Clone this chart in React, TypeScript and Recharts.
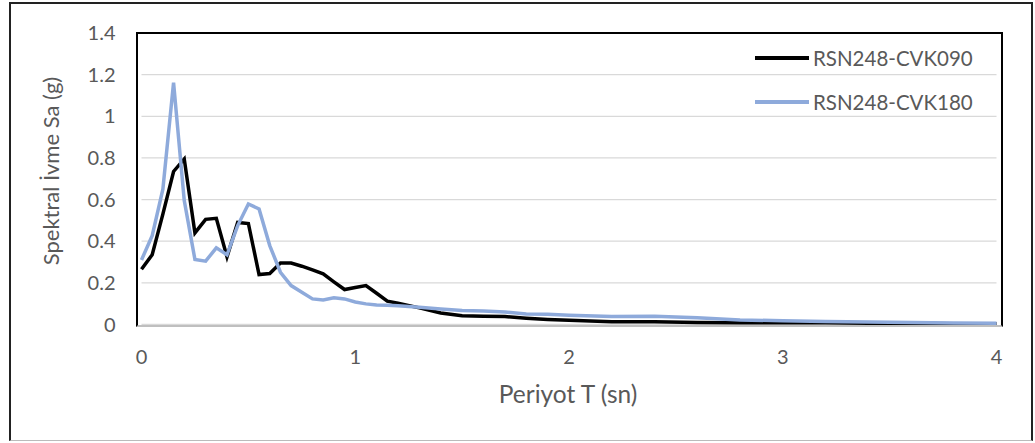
import { LineChart, Line, XAxis, YAxis, CartesianGrid } from 'recharts';

// Period (s) and spectral acceleration (g)
const periods = [
  0, 0.05, 0.1, 0.15, 0.2, 0.25, 0.3, 0.35, 0.4, 0.45, 0.5, 0.55, 0.6, 0.65, 0.7,
  0.75, 0.8, 0.85, 0.9, 0.95, 1.0, 1.05, 1.1, 1.15, 1.2, 1.3, 1.4, 1.5, 1.6, 1.7,
  1.8, 1.9, 2.0, 2.2, 2.4, 2.6, 2.8, 3.0, 3.2, 3.4, 3.6, 3.8, 4.0,
];

const cvk090 = [
  0.265, 0.335, 0.53, 0.735, 0.795, 0.44, 0.505, 0.51, 0.325, 0.49, 0.485, 0.24, 0.245, 0.295, 0.295,
  0.28, 0.262, 0.243, 0.205, 0.168, 0.178, 0.187, 0.15, 0.112, 0.102, 0.08, 0.055, 0.042, 0.04, 0.038,
  0.03, 0.024, 0.02, 0.013, 0.013, 0.01, 0.009, 0.008, 0.008, 0.006, 0.005, 0.004, 0.004,
];

const cvk180 = [
  0.31, 0.427, 0.65, 1.162, 0.595, 0.312, 0.304, 0.368, 0.335, 0.475, 0.579, 0.555, 0.379, 0.251, 0.187,
  0.155, 0.123, 0.118, 0.128, 0.123, 0.108, 0.099, 0.094, 0.092, 0.09, 0.083, 0.075, 0.067, 0.065, 0.06,
  0.051, 0.049, 0.044, 0.038, 0.04, 0.033, 0.022, 0.018, 0.014, 0.012, 0.01, 0.007, 0.006,
];

const xTicks = [0, 1, 2, 3, 4];
const yTicks = [0, 0.2, 0.4, 0.6, 0.8, 1, 1.2, 1.4];

const SERIES = [
  { key: 'cvk090', name: 'RSN248-CVK090', color: '#000000' },
  { key: 'cvk180', name: 'RSN248-CVK180', color: '#8eaadb' },
];

const FONT = 'Lato, "Open Sans", sans-serif';
const TEXT = '#595959';

const data = periods.map((t, i) => ({ t, cvk090: cvk090[i], cvk180: cvk180[i] }));

// legend sits inside the plot area, top right, no background
function LegendBox() {
  return (
    <div style={{ position: 'absolute', left: 755, top: 36, fontFamily: FONT, fontSize: 20.5, color: TEXT }}>
      {SERIES.map((s) => (
        <div key={s.key} style={{ display: 'flex', alignItems: 'center', height: 44 }}>
          <div style={{ width: 54, height: 4, background: s.color, marginRight: 4 }} />
          <span>{s.name}</span>
        </div>
      ))}
    </div>
  );
}

export default function App() {
  return (
    <div style={{ position: 'absolute', left: 0, top: 0, width: 1035, height: 443, background: '#fff' }}>
      {/* chart frame */}
      <div style={{
        position: 'absolute', left: 9, top: 2, width: 1020, height: 436,
        borderLeft: '2px solid #222', borderTop: '2px solid #222', borderRight: '2px solid #222',
        borderBottom: '1px solid #bbb',
      }} />
      <LineChart
        width={1035}
        height={443}
        data={data}
        margin={{ top: 33, right: 38.5, bottom: 58.5, left: 0 }}
        style={{ position: 'absolute', left: 0, top: 0 }}
      >
        <CartesianGrid horizontal vertical={false} stroke="#d9d9d9" strokeWidth={1.3} />
        <XAxis
          dataKey="t"
          type="number"
          domain={[0, 4]}
          ticks={xTicks}
          height={60}
          axisLine={false}
          tickLine={false}
          tickSize={0}
          tickMargin={25}
          tick={{ fill: TEXT, fontSize: 20, fontFamily: FONT }}
          label={{
            content: () => (
              <text x={568} y={403} textAnchor="middle" fill={TEXT} fontSize={24.5} fontFamily={FONT}>
                Periyot T (sn)
              </text>
            ),
          }}
        />
        <YAxis
          type="number"
          domain={[0, 1.4]}
          ticks={yTicks}
          width={141.5}
          axisLine={false}
          tickLine={false}
          tickSize={0}
          tickMargin={26}
          tick={{ fill: TEXT, fontSize: 20, fontFamily: FONT }}
          label={{
            content: () => (
              <text
                x={50}
                y={171}
                transform="rotate(-90 50 171)"
                textAnchor="middle"
                dominantBaseline="central"
                fill={TEXT}
                fontSize={22}
                fontFamily={FONT}
              >
                Spektral İvme Sa (g)
              </text>
            ),
          }}
        />
        {SERIES.map((s) => (
          <Line
            key={s.key}
            dataKey={s.key}
            name={s.name}
            stroke={s.color}
            strokeWidth={3.5}
            dot={false}
            type="linear"
            isAnimationActive={false}
          />
        ))}
      </LineChart>
      <LegendBox />
      {/* plot area border */}
      <div style={{
        position: 'absolute', left: 136, top: 32, width: 863, height: 291,
        borderLeft: '2px solid #000', borderTop: '2px solid #000', borderRight: '2px solid #000',
        borderBottom: '2px solid #bfbfbf', pointerEvents: 'none',
      }} />
    </div>
  );
}
